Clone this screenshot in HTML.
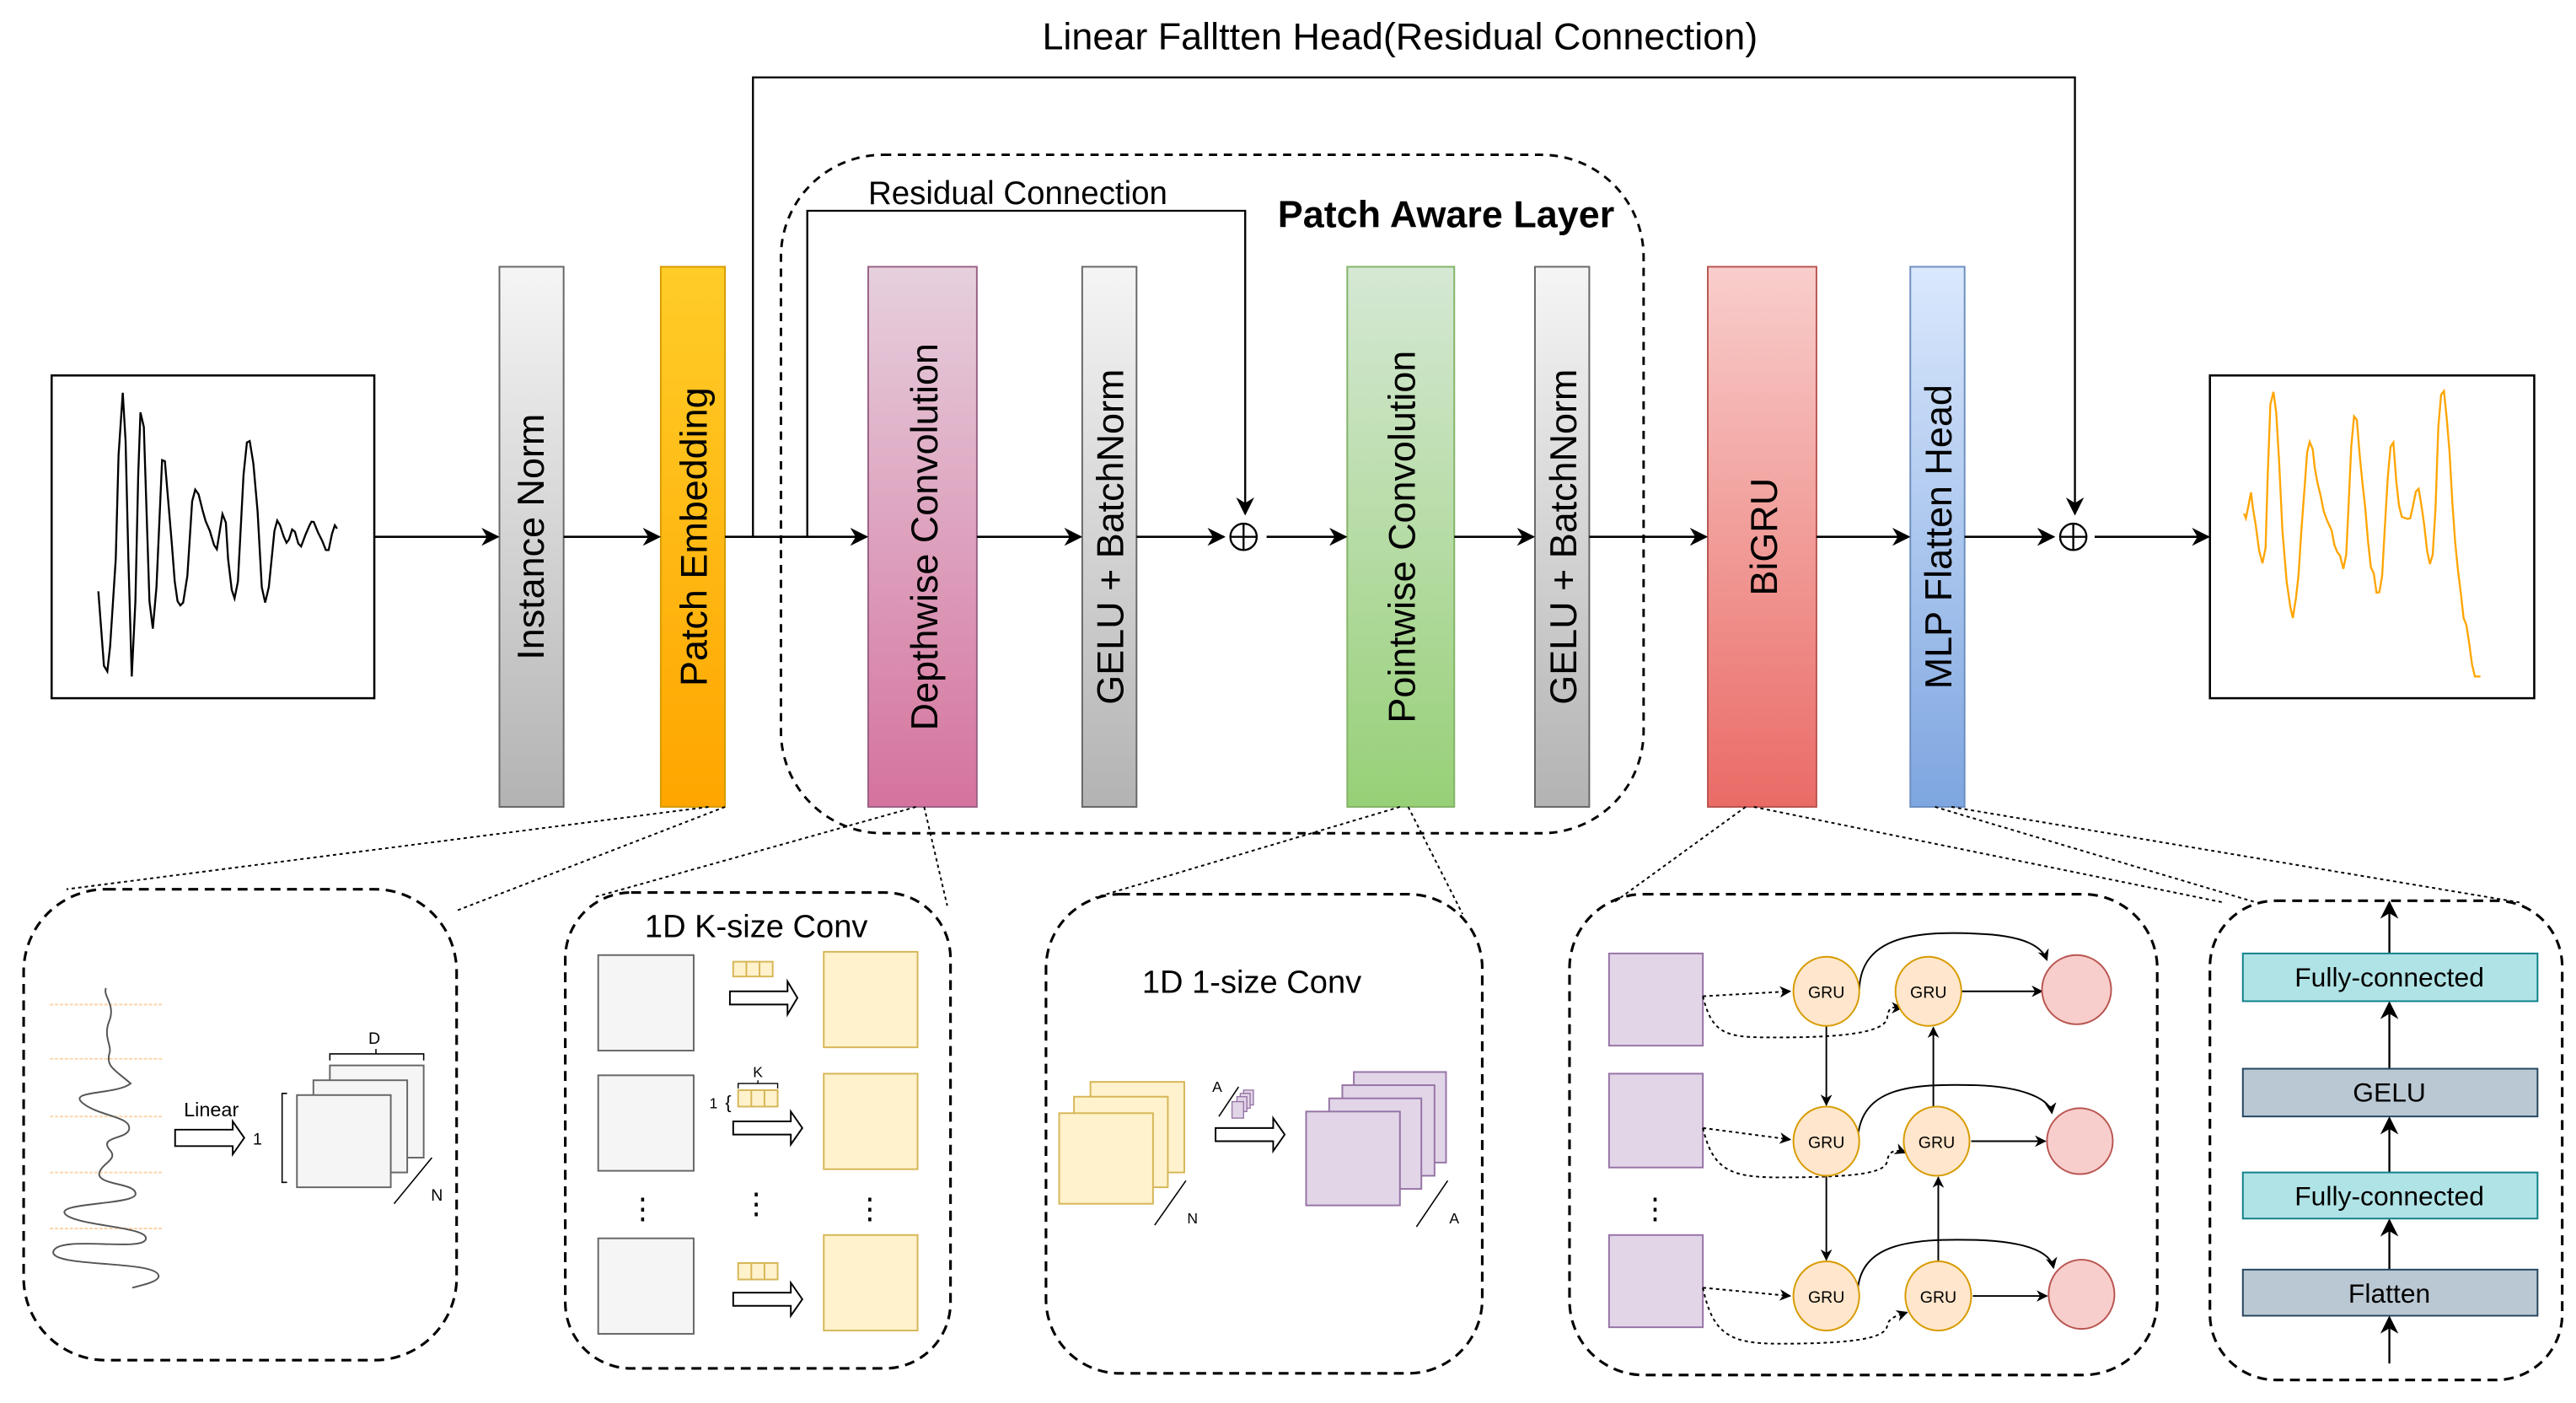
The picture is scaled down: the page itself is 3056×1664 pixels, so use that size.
<!DOCTYPE html>
<html><head><meta charset="utf-8"><style>
html,body{margin:0;padding:0;background:#fff;}
svg{display:block;}
text{font-family:"Liberation Sans",sans-serif;}
</style></head><body>
<svg width="3056" height="1664" viewBox="0 0 1564 852" xmlns="http://www.w3.org/2000/svg">
<defs>
<linearGradient id="gGray" x1="0" y1="0" x2="0" y2="1"><stop offset="0" stop-color="#f5f5f5"/><stop offset="1" stop-color="#b3b3b3"/></linearGradient>
<linearGradient id="gOr" x1="0" y1="0" x2="0" y2="1"><stop offset="0" stop-color="#ffcd28"/><stop offset="1" stop-color="#ffa500"/></linearGradient>
<linearGradient id="gPk" x1="0" y1="0" x2="0" y2="1"><stop offset="0" stop-color="#e6d0de"/><stop offset="1" stop-color="#d5739d"/></linearGradient>
<linearGradient id="gGr" x1="0" y1="0" x2="0" y2="1"><stop offset="0" stop-color="#d5e8d4"/><stop offset="1" stop-color="#97d077"/></linearGradient>
<linearGradient id="gRd" x1="0" y1="0" x2="0" y2="1"><stop offset="0" stop-color="#f8cecc"/><stop offset="1" stop-color="#ea6b66"/></linearGradient>
<linearGradient id="gBl" x1="0" y1="0" x2="0" y2="1"><stop offset="0" stop-color="#dae8fc"/><stop offset="1" stop-color="#7ea6e0"/></linearGradient>
<marker id="ar" viewBox="0 0 10 10" refX="9" refY="5" markerWidth="11" markerHeight="11" orient="auto" markerUnits="userSpaceOnUse"><path d="M0,0 L10,5 L0,10 L3,5 z" fill="#000"/></marker>
<marker id="as" viewBox="0 0 10 10" refX="9" refY="5" markerWidth="7" markerHeight="7" orient="auto" markerUnits="userSpaceOnUse"><path d="M0,0 L10,5 L0,10 L3,5 z" fill="#000"/></marker>
</defs>

<text x="850" y="30" font-size="23" text-anchor="middle">Linear Falltten Head(Residual Connection)</text>

<rect x="474" y="94" width="524" height="412" rx="62" fill="none" stroke="#000" stroke-width="1.5" stroke-dasharray="5,4"/>
<text x="878" y="138" font-size="23" font-weight="bold" text-anchor="middle">Patch Aware Layer</text>
<text x="527" y="124" font-size="19.7">Residual Connection</text>

<polyline points="457,326 457,47 1260,47 1260,312" fill="none" stroke="#000" stroke-width="1.2" marker-end="url(#ar)"/>
<polyline points="490,326 490,128 756,128 756,312" fill="none" stroke="#000" stroke-width="1.2" marker-end="url(#ar)"/>

<rect x="31" y="228" width="196" height="196" fill="#fff" stroke="#000" stroke-width="1.3"/>
<g transform="translate(20.47,220.06) scale(0.1706)">
<polyline fill="none" stroke="#000" stroke-width="7" points="228,815 248,1080 260,1100 270,1010 290,700 300,330 315,108 325,280 335,700 347,1118 360,850 370,400 378,178 390,230 410,850 422,948 435,800 455,348 465,352 490,650 500,780 510,850 520,865 530,855 545,760 562,495 573,453 585,470 600,530 610,565 625,600 640,650 650,665 670,540 682,570 690,700 703,810 713,840 725,780 745,400 757,285 767,280 780,360 795,530 810,800 822,855 835,800 855,600 865,563 875,580 888,620 898,642 907,630 918,595 928,603 940,645 950,655 965,615 980,580 987,567 995,568 1010,605 1025,635 1038,668 1048,668 1060,610 1070,580 1078,592"/>
</g>

<rect x="1342" y="228" width="197" height="196" fill="#fff" stroke="#000" stroke-width="1.3"/>
<g transform="translate(1340.84,220.06) scale(0.1706)">
<polyline fill="none" stroke="#ffa500" stroke-width="7" points="128,538 135,555 145,505 153,463 160,520 170,580 182,670 194,715 205,660 212,420 222,150 233,105 243,180 253,350 265,600 280,780 293,870 302,910 313,840 322,760 333,590 345,430 353,320 362,283 373,310 380,375 390,430 400,470 412,530 425,565 440,598 450,650 460,675 470,688 482,735 492,685 500,520 510,300 520,192 530,205 540,330 550,430 560,520 570,640 580,730 590,750 600,820 610,818 620,760 630,580 640,410 650,300 660,285 670,420 680,510 690,550 710,557 720,555 730,510 740,460 750,450 760,510 770,580 780,670 790,718 800,685 810,520 820,230 830,115 840,102 850,200 860,320 870,500 880,640 890,740 900,820 910,910 920,935 930,1000 940,1075 950,1118 970,1118"/>
</g>

<rect x="303" y="162" width="39" height="328" fill="url(#gGray)" stroke="#666"/>
<rect x="401" y="162" width="39" height="328" fill="url(#gOr)" stroke="#d79b00"/>
<rect x="527" y="162" width="66" height="328" fill="url(#gPk)" stroke="#996185"/>
<rect x="657" y="162" width="33" height="328" fill="url(#gGray)" stroke="#666"/>
<rect x="818" y="162" width="65" height="328" fill="url(#gGr)" stroke="#82b366"/>
<rect x="932" y="162" width="33" height="328" fill="url(#gGray)" stroke="#666"/>
<rect x="1037" y="162" width="66" height="328" fill="url(#gRd)" stroke="#b85450"/>
<rect x="1160" y="162" width="33" height="328" fill="url(#gBl)" stroke="#6c8ebf"/>

<g font-size="23" text-anchor="middle">
<text transform="translate(330,326) rotate(-90)">Instance Norm</text>
<text transform="translate(429,326) rotate(-90)">Patch Embedding</text>
<text transform="translate(569,326) rotate(-90)">Depthwise Convolution</text>
<text transform="translate(682,326) rotate(-90)">GELU + BatchNorm</text>
<text transform="translate(859,326) rotate(-90)">Pointwise Convolution</text>
<text transform="translate(957,326) rotate(-90)">GELU + BatchNorm</text>
<text transform="translate(1079,326) rotate(-90)">BiGRU</text>
<text transform="translate(1185,326) rotate(-90)">MLP Flatten Head</text>
</g>

<g stroke="#000" stroke-width="1.3" marker-end="url(#ar)">
<line x1="227" y1="326" x2="302" y2="326"/>
<line x1="342" y1="326" x2="400" y2="326"/>
<line x1="440" y1="326" x2="526" y2="326"/>
<line x1="593" y1="326" x2="656" y2="326"/>
<line x1="690" y1="326" x2="743" y2="326"/>
<line x1="769" y1="326" x2="817" y2="326"/>
<line x1="883" y1="326" x2="931" y2="326"/>
<line x1="965" y1="326" x2="1036" y2="326"/>
<line x1="1103" y1="326" x2="1159" y2="326"/>
<line x1="1193" y1="326" x2="1247" y2="326"/>
<line x1="1272" y1="326" x2="1341" y2="326"/>
</g>
<g fill="none" stroke="#000" stroke-width="1.2">
<circle cx="755" cy="326" r="8"/><line x1="747" y1="326" x2="763" y2="326"/><line x1="755" y1="318" x2="755" y2="334"/>
<circle cx="1259" cy="326" r="8"/><line x1="1251" y1="326" x2="1267" y2="326"/><line x1="1259" y1="318" x2="1259" y2="334"/>
</g>

<g stroke="#000" stroke-width="1" stroke-dasharray="2,2" fill="none">
<line x1="430" y1="490" x2="40" y2="540"/>
<line x1="440" y1="490" x2="277" y2="553"/>
<line x1="556" y1="490" x2="360" y2="545"/>
<line x1="561" y1="490" x2="575" y2="550"/>
<line x1="850" y1="490" x2="665" y2="545"/>
<line x1="855" y1="490" x2="888" y2="555"/>
<line x1="1060" y1="490" x2="980" y2="548"/>
<line x1="1065" y1="490" x2="1350" y2="548"/>
<line x1="1175" y1="490" x2="1370" y2="548"/>
<line x1="1185" y1="490" x2="1530" y2="548"/>
</g>

<g fill="none" stroke="#000" stroke-width="1.6" stroke-dasharray="6,4">
<rect x="14" y="540" width="263" height="286" rx="50"/>
<rect x="343" y="542" width="234" height="289" rx="40"/>
<rect x="635" y="543" width="265" height="291" rx="45"/>
<rect x="953" y="543" width="357" height="292" rx="45"/>
<rect x="1342" y="547" width="214" height="291" rx="40"/>
</g>

<g stroke="#fdd3a6" stroke-width="1" stroke-dasharray="2,1">
<line x1="30" y1="610" x2="98" y2="610"/><line x1="30" y1="643" x2="98" y2="643"/><line x1="30" y1="678" x2="98" y2="678"/><line x1="30" y1="712" x2="98" y2="712"/><line x1="30" y1="746" x2="98" y2="746"/>
</g>
<path d="M64,600 C62,605 70,610 66,620 C62,630 68,635 66,640 C64,648 70,650 79,658 C70,665 40,662 50,670 C60,678 80,678 78,686 C76,692 60,690 66,698 C72,704 62,706 60,712 C58,720 82,718 82,725 C82,732 30,730 40,738 C50,745 92,745 88,753 C84,760 35,750 32,760 C30,770 96,765 96,775 C96,778 88,780 80,782" fill="none" stroke="#555" stroke-width="1"/>
<text x="128" y="678" font-size="12" text-anchor="middle">Linear</text>
<path d="M106,686 L141,686 L141,681 L148,691 L141,701 L141,696 L106,696 z" fill="#fff" stroke="#000" stroke-width="1"/>
<text x="156" y="695" font-size="10" text-anchor="middle">1</text>
<path d="M174,664 L171,664 L171,718 L174,718" fill="none" stroke="#000" stroke-width="0.8"/>
<rect x="200" y="647" width="57" height="56" fill="#f5f5f5" stroke="#666"/>
<rect x="190" y="656" width="57" height="56" fill="#f5f5f5" stroke="#666"/>
<rect x="180" y="665" width="57" height="56" fill="#f5f5f5" stroke="#666"/>
<text x="227" y="634" font-size="10" text-anchor="middle">D</text>
<path d="M200,644 L200,640 L257,640 L257,644 M228,640 L228,637" fill="none" stroke="#000" stroke-width="0.8"/>
<line x1="239" y1="731" x2="262" y2="703" stroke="#000" stroke-width="0.8"/>
<text x="265" y="729" font-size="10" text-anchor="middle">N</text>

<text x="459" y="569" font-size="19.5" text-anchor="middle">1D K-size Conv</text>
<g fill="#f5f5f5" stroke="#666">
<rect x="363" y="580" width="58" height="58"/><rect x="363" y="653" width="58" height="58"/><rect x="363" y="752" width="58" height="58"/>
</g>
<g fill="#fff2cc" stroke="#d6b656">
<rect x="500" y="578" width="57" height="58"/><rect x="500" y="652" width="57" height="58"/><rect x="500" y="750" width="57" height="58"/>
<rect x="445" y="584" width="24" height="9"/><line x1="453" y1="584" x2="453" y2="593"/><line x1="461" y1="584" x2="461" y2="593"/>
<rect x="448" y="662" width="24" height="10"/><line x1="456" y1="662" x2="456" y2="672"/><line x1="464" y1="662" x2="464" y2="672"/>
<rect x="448" y="767" width="24" height="10"/><line x1="456" y1="767" x2="456" y2="777"/><line x1="464" y1="767" x2="464" y2="777"/>
</g>
<g fill="#fff" stroke="#000" stroke-width="1">
<path d="M443,602 L478,602 L478,596 L484,606 L478,616 L478,610 L443,610 z"/>
<path d="M445,681 L480,681 L480,675 L487,685 L480,695 L480,689 L445,689 z"/>
<path d="M445,785 L480,785 L480,779 L487,789 L480,799 L480,793 L445,793 z"/>
</g>
<text x="460" y="654" font-size="9" text-anchor="middle">K</text>
<path d="M448,661 L448,658 L472,658 L472,661 M460,658 L460,656" fill="none" stroke="#000" stroke-width="0.7"/>
<text x="433" y="673" font-size="9" text-anchor="middle">1</text>
<text x="442" y="673" font-size="11" text-anchor="middle">{</text>
<g font-size="18" text-anchor="middle"><text x="390" y="740">⋮</text><text x="459" y="737">⋮</text><text x="528" y="740">⋮</text></g>

<text x="760" y="603" font-size="19.5" text-anchor="middle">1D 1-size Conv</text>
<g fill="#fff2cc" stroke="#d6b656">
<rect x="662" y="657" width="57" height="55"/><rect x="652" y="666" width="57" height="55"/><rect x="643" y="676" width="57" height="55"/>
</g>
<line x1="701" y1="744" x2="720" y2="717" stroke="#000" stroke-width="0.8"/>
<text x="724" y="743" font-size="9" text-anchor="middle">N</text>
<text x="739" y="663" font-size="9" text-anchor="middle">A</text>
<line x1="740" y1="678" x2="752" y2="660" stroke="#000" stroke-width="0.8"/>
<g fill="#e1d5e7" stroke="#9673a6" stroke-width="0.7">
<rect x="755" y="662" width="6" height="9"/><rect x="753" y="664" width="6" height="9"/><rect x="751" y="666" width="6" height="9"/><rect x="748" y="669" width="7" height="10"/>
</g>
<path d="M738,685 L773,685 L773,679 L780,689 L773,699 L773,693 L738,693 z" fill="#fff" stroke="#000" stroke-width="1"/>
<g fill="#e1d5e7" stroke="#9673a6">
<rect x="822" y="651" width="56" height="55"/><rect x="815" y="659" width="56" height="55"/><rect x="807" y="667" width="56" height="55"/><rect x="793" y="675" width="57" height="57"/>
</g>
<line x1="860" y1="745" x2="879" y2="717" stroke="#000" stroke-width="0.8"/>
<text x="883" y="743" font-size="9" text-anchor="middle">A</text>

<g fill="#e1d5e7" stroke="#9673a6">
<rect x="977" y="579" width="57" height="56"/><rect x="977" y="652" width="57" height="57"/><rect x="977" y="750" width="57" height="56"/>
</g>
<text x="1005" y="740" font-size="18" text-anchor="middle">⋮</text>
<g stroke="#000" stroke-width="1" fill="none">
<line x1="1109" y1="623" x2="1109" y2="671" marker-end="url(#as)"/>
<line x1="1109" y1="714" x2="1109" y2="765" marker-end="url(#as)"/>
<line x1="1174" y1="672" x2="1174" y2="624" marker-end="url(#as)"/>
<line x1="1177" y1="766" x2="1177" y2="715" marker-end="url(#as)"/>
<line x1="1191" y1="602" x2="1240" y2="602" marker-end="url(#as)"/>
<line x1="1197" y1="693" x2="1242" y2="693" marker-end="url(#as)"/>
<line x1="1198" y1="787" x2="1243" y2="787" marker-end="url(#as)"/>
<path d="M1129,601 C1130,570 1160,565 1200,567 C1230,568 1240,575 1243,583" marker-end="url(#as)"/>
<path d="M1128,692 C1130,660 1160,658 1200,659 C1230,660 1245,668 1246,676" marker-end="url(#as)"/>
<path d="M1128,784 C1130,755 1160,752 1200,753 C1230,754 1245,760 1247,770" marker-end="url(#as)"/>
</g>
<g stroke="#000" stroke-width="1" fill="none" stroke-dasharray="2,2">
<path d="M1034,605 L1087,602" marker-end="url(#as)"/>
<path d="M1034,605 C1040,630 1050,630 1080,630 C1130,630 1145,625 1146,618 C1147,610 1150,612 1155,612" marker-end="url(#as)"/>
<path d="M1034,685 L1087,692" marker-end="url(#as)"/>
<path d="M1034,685 C1040,710 1050,715 1080,715 C1130,715 1145,712 1146,705 C1147,698 1152,698 1157,700" marker-end="url(#as)"/>
<path d="M1034,782 L1087,787" marker-end="url(#as)"/>
<path d="M1034,782 C1040,810 1050,816 1080,816 C1130,816 1145,812 1146,805 C1147,800 1152,799 1158,797" marker-end="url(#as)"/>
</g>
<g fill="#ffe6cc" stroke="#d79b00">
<ellipse cx="1109" cy="602" rx="20" ry="21"/><ellipse cx="1171" cy="602" rx="20" ry="21"/>
<ellipse cx="1109" cy="693" rx="20" ry="21"/><ellipse cx="1176" cy="693" rx="20" ry="21"/>
<ellipse cx="1109" cy="787" rx="20" ry="21"/><ellipse cx="1177" cy="787" rx="20" ry="21"/>
</g>
<g font-size="10" text-anchor="middle">
<text x="1109" y="606">GRU</text><text x="1171" y="606">GRU</text>
<text x="1109" y="697">GRU</text><text x="1176" y="697">GRU</text>
<text x="1109" y="791">GRU</text><text x="1177" y="791">GRU</text>
</g>
<g fill="#f8cecc" stroke="#b85450">
<ellipse cx="1261" cy="601" rx="21" ry="21"/><ellipse cx="1263" cy="693" rx="20" ry="20"/><ellipse cx="1264" cy="786" rx="20" ry="21"/>
</g>

<g stroke="#000" stroke-width="1.2" marker-end="url(#ar)">
<line x1="1451" y1="828" x2="1451" y2="800"/>
<line x1="1451" y1="771" x2="1451" y2="741"/>
<line x1="1451" y1="712" x2="1451" y2="679"/>
<line x1="1451" y1="649" x2="1451" y2="609"/>
<line x1="1451" y1="579" x2="1451" y2="548"/>
</g>
<rect x="1362" y="579" width="179" height="29" fill="#b0e3e6" stroke="#0e8088"/>
<rect x="1362" y="649" width="179" height="29" fill="#bac8d3" stroke="#23445d"/>
<rect x="1362" y="712" width="179" height="28" fill="#b0e3e6" stroke="#0e8088"/>
<rect x="1362" y="771" width="179" height="28" fill="#bac8d3" stroke="#23445d"/>
<g font-size="16.3" text-anchor="middle">
<text x="1451" y="599">Fully-connected</text>
<text x="1451" y="669">GELU</text>
<text x="1451" y="732">Fully-connected</text>
<text x="1451" y="791">Flatten</text>
</g>
</svg>
</body></html>
